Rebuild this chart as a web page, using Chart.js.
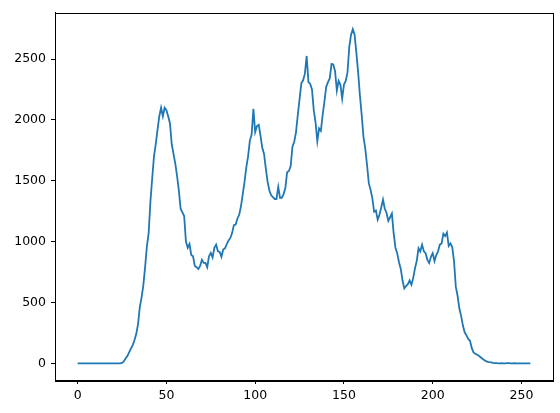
<!DOCTYPE html>
<html>
<head>
<meta charset="utf-8">
<script src="https://cdn.jsdelivr.net/npm/chart.js@4/dist/chart.umd.min.js"></script>
<style>
  html, body { margin: 0; padding: 0; background: #ffffff; }
  canvas { display: block; }
</style>
</head>
<body>
<canvas id="c" width="560" height="413"></canvas>
<script>
// Histogram counts for pixel intensity 0..255
const intensities = Array.from({length: 256}, (_, i) => i);
const counts = [
  0,0,0,0,0,0,0,0,0,0, 0,0,0,0,0,0,0,0,0,0, 0,0,0,0,0,              // 0-24
  3,15,40,60,90,120,150,190,240,320,                                  // 25-34
  460,540,640,790,960,1070,1330,1520,1700,1800,                       // 35-44
  1920,2030,2100,2030,2100,2080,2030,1970,1800,1720,                  // 45-54
  1640,1540,1420,1270,1240,1210,1000,950,980,890,                     // 55-64
  880,800,790,775,800,850,825,825,790,880,                            // 65-74
  907,870,948,975,920,915,875,935,945,980,                            // 75-84
  1010,1030,1070,1135,1140,1190,1220,1290,1390,1490,                  // 85-94
  1610,1700,1830,1880,2090,1900,1950,1960,1870,1770,                  // 95-104
  1720,1600,1490,1420,1380,1365,1350,1350,1450,1360,                  // 105-114
  1360,1390,1440,1570,1580,1620,1780,1820,1900,2040,                  // 115-124
  2170,2300,2325,2380,2525,2310,2295,2250,2080,1980,                  // 125-134
  1825,1930,1910,2040,2150,2270,2310,2340,2460,2455,                  // 135-144
  2400,2240,2320,2290,2175,2290,2320,2390,2600,2700,                  // 145-154
  2745,2700,2550,2390,2200,2040,1860,1765,1630,1480,                  // 155-164
  1425,1355,1245,1255,1180,1220,1280,1345,1270,1235,                  // 165-174
  1170,1200,1230,1070,950,905,830,775,680,615,                        // 175-184
  635,650,680,645,700,780,840,945,920,975,                            // 185-194
  920,905,850,825,875,905,840,890,920,975,                            // 195-204
  985,1065,1045,1075,965,985,955,840,630,555,                         // 205-214
  450,390,310,255,230,200,185,125,90,78,                              // 215-224
  70,62,50,38,28,18,12,9,7,3,                                         // 225-234
  2,1,0,0,1,0,0,2,1,0, 0,1,0,0,0,0,0,0,0,0, 0                         // 235-255
];
const xTickValues = [0, 50, 100, 150, 200, 250];
const yTickValues = [0, 500, 1000, 1500, 2000, 2500];

const frame = {
  id: 'frame',
  afterDraw(chart) {
    const {ctx, chartArea: a} = chart;
    ctx.save();
    ctx.strokeStyle = '#000';
    ctx.lineWidth = 1;
    ctx.strokeRect(Math.round(a.left) + 0.5, Math.round(a.top) + 0.5,
                   Math.round(a.right - a.left), Math.round(a.bottom - a.top));
    ctx.restore();
  }
};

new Chart(document.getElementById('c'), {
  type: 'line',
  data: {
    datasets: [{
      data: intensities.map((x, i) => ({x: x, y: counts[i]})),
      borderColor: '#1f77b4',
      borderWidth: 1.8,
      pointRadius: 0,
      tension: 0,
      fill: false
    }]
  },
  options: {
    responsive: false,
    animation: false,
    devicePixelRatio: 1,
    layout: { padding: { top: 10, right: 7, left: 0, bottom: 0 } },
    plugins: { legend: { display: false }, tooltip: { enabled: false } },
    scales: {
      x: {
        type: 'linear',
        min: -12.75, max: 267.75,
        afterBuildTicks: s => { s.ticks = xTickValues.map(v => ({value: v})); },
        afterFit: s => { s.height = 33; },
        grid: { drawOnChartArea: false, drawTicks: true, tickLength: 4, color: '#000' },
        border: { display: true, color: '#000', width: 1 },
        ticks: { color: '#000', padding: 4, maxRotation: 0,
                 callback: v => String(v),
                 font: { family: 'DejaVu Sans', size: 12.5 } }
      },
      y: {
        type: 'linear',
        min: -137, max: 2882,
        afterBuildTicks: s => { s.ticks = yTickValues.map(v => ({value: v})); },
        afterFit: s => { s.width = 55; },
        grid: { drawOnChartArea: false, drawTicks: true, tickLength: 4, color: '#000' },
        border: { display: true, color: '#000', width: 1 },
        ticks: { color: '#000', padding: 5,
                 callback: v => String(v),
                 font: { family: 'DejaVu Sans', size: 12.5 } }
      }
    }
  },
  plugins: [frame]
});
</script>
</body>
</html>
